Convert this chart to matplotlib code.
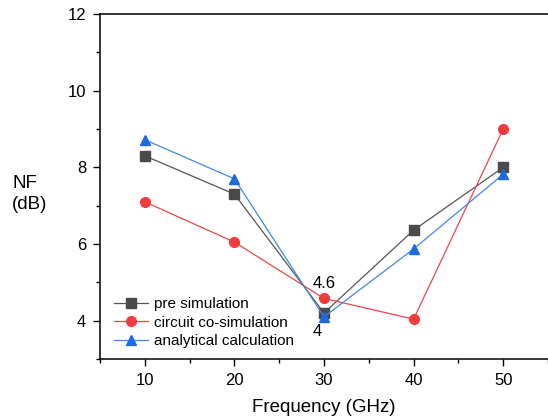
import matplotlib
matplotlib.use("Agg")
import matplotlib.pyplot as plt
from matplotlib.ticker import MultipleLocator

plt.rcParams['font.family'] = ['Liberation Sans', 'DejaVu Sans']

freq = [10, 20, 30, 40, 50]
pre_sim = [8.3, 7.3, 4.2, 6.36, 8.0]
co_sim = [7.1, 6.05, 4.58, 4.04, 9.0]
analytical = [8.72, 7.7, 4.1, 5.87, 7.82]

fig = plt.figure(figsize=(5.48, 4.19), dpi=100)
ax = fig.add_axes([0.1825, 0.1432, 0.8175, 0.8234])

ax.plot(freq, pre_sim, color='#555555', lw=0.9, marker='s', ms=6.5,
        mfc='#4a4a4a', mec='#4a4a4a', label='pre simulation')
ax.plot(freq, co_sim, color='#f04545', lw=0.9, marker='o', ms=7,
        mfc='#f03c3c', mec='#f03c3c', label='circuit co-simulation')
ax.plot(freq, analytical, color='#3f88e8', lw=0.9, marker='^', ms=7.5,
        mfc='#1a6ae0', mec='#1a6ae0', label='analytical calculation')

ax.text(30, 4.78, '4.6', ha='center', va='bottom', fontsize=12)
ax.text(29.2, 3.9, '4', ha='center', va='top', fontsize=12)

ax.set_xlim(5, 55)
ax.set_ylim(3, 12)
ax.xaxis.set_major_locator(MultipleLocator(10))
ax.xaxis.set_minor_locator(MultipleLocator(5))
ax.yaxis.set_major_locator(MultipleLocator(2))
ax.yaxis.set_minor_locator(MultipleLocator(1))
ax.tick_params(which='major', direction='out', length=5, width=1, labelsize=12, pad=5)
ax.tick_params(which='minor', direction='out', length=3, width=1)
ax.spines['right'].set_visible(False)
for s in ['left', 'bottom', 'top']:
    ax.spines[s].set_linewidth(1.1)

ax.set_xlabel('Frequency (GHz)', fontsize=13.5, labelpad=8)
fig.text(0.022, 0.537, 'NF\n(dB)', fontsize=13.5, ha='left', va='center', linespacing=1.25)

ax.legend(loc='lower left', bbox_to_anchor=(0.008, 0.0), frameon=False, fontsize=11,
          handlelength=2.2, handletextpad=0.4, labelspacing=0.3, borderaxespad=0.3)

fig.savefig('out.png', dpi=100)
